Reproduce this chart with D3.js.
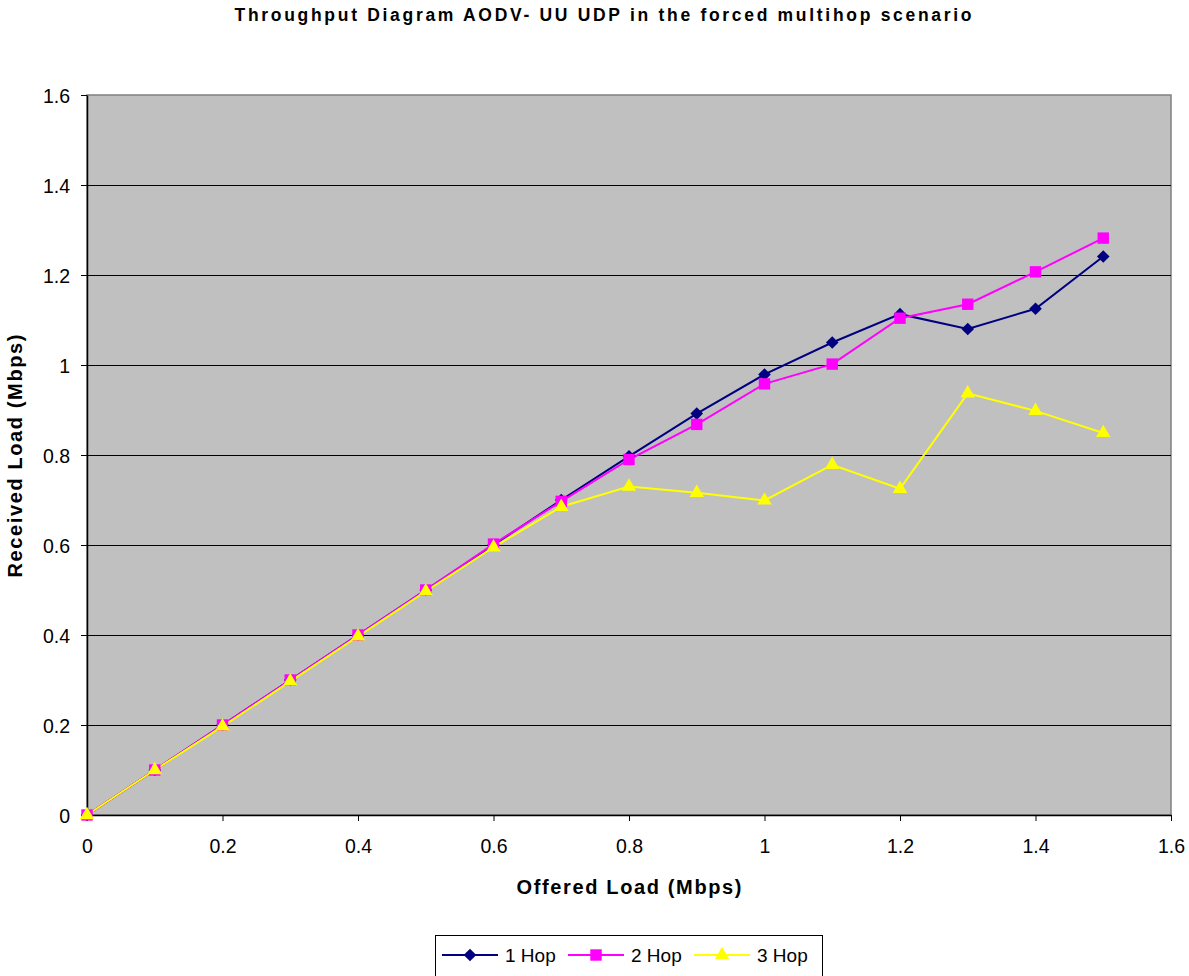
<!DOCTYPE html>
<html>
<head>
<meta charset="utf-8">
<script src="https://cdn.jsdelivr.net/npm/d3@7"></script>
<style>
  body { margin: 0; background: #fff; }
  svg text { font-family: "Liberation Sans", Arial, sans-serif; }
</style>
</head>
<body>
<svg id="chart" width="1189" height="976"></svg>
<script>
// offered load (Mbps)
var offered = [0, 0.1, 0.2, 0.3, 0.4, 0.5, 0.6, 0.7, 0.8, 0.9, 1.0, 1.1, 1.2, 1.3, 1.4, 1.5];
// received load per scenario
var hop1 = [0, 0.1, 0.2, 0.3, 0.4, 0.5, 0.6, 0.7, 0.797, 0.892, 0.979, 1.05, 1.113, 1.08, 1.125, 1.241];
var hop2 = [0, 0.1, 0.2, 0.3, 0.4, 0.5, 0.602, 0.697, 0.79, 0.868, 0.958, 1.002, 1.104, 1.135, 1.207, 1.282];
var hop3 = [0, 0.1, 0.197, 0.297, 0.397, 0.497, 0.595, 0.685, 0.73, 0.716, 0.699, 0.778, 0.725, 0.937, 0.898, 0.849];
var seriesNames = ["1 Hop", "2 Hop", "3 Hop"];
var xTicks = [0, 0.2, 0.4, 0.6, 0.8, 1, 1.2, 1.4, 1.6];
var yTicks = [0, 0.2, 0.4, 0.6, 0.8, 1, 1.2, 1.4, 1.6];

var svg = d3.select("svg#chart");
var margin = {top: 95, right: 18, bottom: 161, left: 87};
var width = +svg.attr("width") - margin.left - margin.right;
var height = +svg.attr("height") - margin.top - margin.bottom;
var g = svg.append("g").attr("transform", "translate(" + margin.left + "," + margin.top + ")");

var x = d3.scaleLinear().domain([0, 1.6]).range([0, width]);
var y = d3.scaleLinear().domain([0, 1.6]).range([height, 0]);

var colors = ["#000080", "#ff00ff", "#ffff00"];
var symbols = [d3.symbolSquare, d3.symbolSquare, d3.symbolTriangle];
var symSize = [80, 130, 90];
var symRot = [45, 0, 0];

function marker(s) {
    return d3.symbol().type(symbols[s]).size(symSize[s]);
}

// plot background
g.append("rect")
    .attr("width", width)
    .attr("height", height)
    .attr("fill", "#c0c0c0")
    .attr("stroke", "#808080")
    .attr("stroke-width", 1.5);

// gridlines
g.selectAll(".grid")
    .data(yTicks.filter(function(d) { return d > 0 && d < 1.6; }))
    .enter().append("line")
    .attr("x1", 0).attr("x2", width)
    .attr("y1", function(d) { return Math.round(y(d)) + 0.5; })
    .attr("y2", function(d) { return Math.round(y(d)) + 0.5; })
    .attr("stroke", "#000")
    .attr("stroke-width", 1);

// axes
var fmt = function(d) { return String(+d.toFixed(1)); };
var xAxis = g.append("g")
    .attr("transform", "translate(0," + height + ")")
    .call(d3.axisBottom(x).tickValues(xTicks).tickSizeInner(6).tickSizeOuter(0).tickPadding(18).tickFormat(fmt));
var yAxis = g.append("g")
    .call(d3.axisLeft(y).tickValues(yTicks).tickSizeInner(6).tickSizeOuter(0).tickPadding(11).tickFormat(fmt));
[xAxis, yAxis].forEach(function(a) {
    a.attr("font-size", null).attr("font-family", null);
    a.selectAll("text").style("font-size", "19.5px").attr("fill", "#000");
    a.selectAll("line").attr("stroke", "#000");
    a.select(".domain").attr("stroke", "#000").attr("stroke-width", 1.5);
});
yAxis.selectAll("text").attr("dy", "0.36em");

// lines + markers
var data = [hop1, hop2, hop3];
var line = d3.line()
    .x(function(d, i) { return x(offered[i]); })
    .y(function(d) { return y(d); });

data.forEach(function(vals, s) {
    g.append("path")
        .datum(vals)
        .attr("fill", "none")
        .attr("stroke", colors[s])
        .attr("stroke-width", 2)
        .attr("d", line);
});
data.forEach(function(vals, s) {
    g.selectAll(".m" + s)
        .data(vals)
        .enter().append("path")
        .attr("transform", function(d, i) {
            return "translate(" + x(offered[i]) + "," + y(d) + ") rotate(" + symRot[s] + ")";
        })
        .attr("d", marker(s))
        .attr("fill", colors[s]);
});

// title
svg.append("text")
    .attr("x", 603)
    .attr("y", 21)
    .attr("text-anchor", "middle")
    .attr("textLength", 737)
    .attr("lengthAdjust", "spacing")
    .style("font-size", "17.5px")
    .style("font-weight", "bold")
    .text("Throughput Diagram AODV- UU UDP in the forced multihop scenario");

// axis titles
svg.append("text")
    .attr("x", 629)
    .attr("y", 894)
    .attr("text-anchor", "middle")
    .attr("textLength", 225)
    .attr("lengthAdjust", "spacing")
    .style("font-size", "20px")
    .style("font-weight", "bold")
    .text("Offered Load (Mbps)");

svg.append("text")
    .attr("transform", "translate(22," + (margin.top + height / 2 + 1) + ") rotate(-90)")
    .attr("text-anchor", "middle")
    .attr("textLength", 243)
    .attr("lengthAdjust", "spacing")
    .style("font-size", "20px")
    .style("font-weight", "bold")
    .text("Received Load (Mbps)");

// legend
var legend = svg.append("g").attr("transform", "translate(435,935)");
legend.append("rect")
    .attr("x", 0.5).attr("y", 0.5)
    .attr("width", 387).attr("height", 45)
    .attr("fill", "#fff")
    .attr("stroke", "#000");
var legX = [7, 133, 259];
seriesNames.forEach(function(name, s) {
    var lx = legX[s];
    legend.append("line")
        .attr("x1", lx).attr("x2", lx + 56)
        .attr("y1", 20).attr("y2", 20)
        .attr("stroke", colors[s])
        .attr("stroke-width", 2);
    legend.append("path")
        .attr("transform", "translate(" + (lx + 28) + ",20) rotate(" + symRot[s] + ")")
        .attr("d", marker(s))
        .attr("fill", colors[s]);
    legend.append("text")
        .attr("x", lx + 63)
        .attr("y", 27)
        .style("font-size", "19px")
        .text(name);
});
</script>
</body>
</html>
